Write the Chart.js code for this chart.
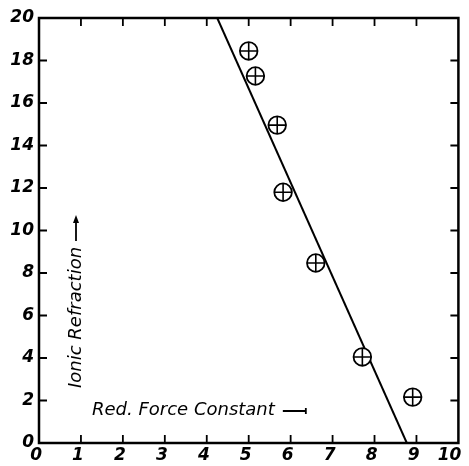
<!DOCTYPE html>
<html>
<head>
<meta charset="utf-8">
<script src="https://cdn.jsdelivr.net/npm/chart.js@4"></script>
<style>
  html, body { margin: 0; padding: 0; background: #fff; }
  #wrap { width: 469px; height: 466px; }
</style>
</head>
<body>
<div id="wrap"><canvas id="chart" width="469" height="466"></canvas></div>
<script>
// Measured points (red. force constant vs ionic refraction)
const forceConst = [5.0, 5.16, 5.68, 5.82, 6.6, 7.71, 8.91]
const refraction = [18.45, 17.27, 14.96, 11.8, 8.47, 4.05, 2.16]
// Fitted straight line, end points
const lineX = [4.25, 8.77]
const lineY = [20, 0]
const xTicks = [0, 1, 2, 3, 4, 5, 6, 7, 8, 9, 10]
const yTicks = [0, 2, 4, 6, 8, 10, 12, 14, 16, 18, 20]

const font = '"DejaVu Sans", sans-serif'
const pts = forceConst.map((x, i) => ({ x: x, y: refraction[i] }))
const fit = lineX.map((x, i) => ({ x: x, y: lineY[i] }))

// frame + inward ticks on all four sides, plus the in-plot axis captions
const framePlugin = {
  id: 'frame',
  afterDraw(chart) {
    const { ctx, chartArea: a, scales } = chart
    ctx.save()
    ctx.strokeStyle = '#000'
    ctx.lineWidth = 2.5
    ctx.strokeRect(a.left, a.top, a.right - a.left, a.bottom - a.top)
    ctx.lineWidth = 1.8
    const len = 8
    xTicks.slice(1, -1).forEach(v => {
      const px = scales.x.getPixelForValue(v)
      ctx.beginPath()
      ctx.moveTo(px, a.bottom); ctx.lineTo(px, a.bottom - len)
      ctx.moveTo(px, a.top); ctx.lineTo(px, a.top + len)
      ctx.stroke()
    })
    yTicks.slice(1, -1).forEach(v => {
      const py = scales.y.getPixelForValue(v)
      ctx.beginPath()
      ctx.moveTo(a.left, py); ctx.lineTo(a.left + len, py)
      ctx.moveTo(a.right, py); ctx.lineTo(a.right - len, py)
      ctx.stroke()
    })

    ctx.fillStyle = '#000'
    ctx.font = 'italic 18px ' + font
    ctx.textBaseline = 'middle'
    ctx.textAlign = 'left'
    // x caption
    const cap = 'Red. Force Constant'
    ctx.fillText(cap, 92, 410)
    const w = ctx.measureText(cap).width
    ctx.beginPath()
    ctx.moveTo(92 + w + 8, 411); ctx.lineTo(92 + w + 31, 411)
    ctx.moveTo(92 + w + 31, 408); ctx.lineTo(92 + w + 31, 414)
    ctx.stroke()
    // y caption
    ctx.translate(76, 388)
    ctx.rotate(-Math.PI / 2)
    const ycap = 'Ionic Refraction'
    ctx.fillText(ycap, 0, 0)
    const wy = ctx.measureText(ycap).width
    ctx.beginPath()
    ctx.moveTo(wy + 6, 0); ctx.lineTo(wy + 28, 0)
    ctx.stroke()
    ctx.beginPath()
    ctx.moveTo(wy + 32, 0); ctx.lineTo(wy + 24, -3); ctx.lineTo(wy + 24, 3)
    ctx.closePath(); ctx.fill()
    ctx.restore()
  }
}

new Chart(document.getElementById('chart'), {
  type: 'scatter',
  data: {
    datasets: [
      {
        data: pts, order: 0, pointStyle: 'cross', pointRadius: 8.8,
        pointBorderColor: '#000', pointBorderWidth: 1.6
      },
      {
        data: pts, order: 1, pointStyle: 'circle', pointRadius: 8.8,
        pointBackgroundColor: '#fff', pointBorderColor: '#000', pointBorderWidth: 1.8
      },
      {
        data: fit, order: 2, showLine: true, borderColor: '#000', borderWidth: 2,
        pointRadius: 0, pointHoverRadius: 0
      }
    ]
  },
  options: {
    responsive: false,
    animation: false,
    events: [],
    layout: { padding: { top: 18, right: 3, left: 0, bottom: 0 } },
    plugins: { legend: { display: false }, tooltip: { enabled: false } },
    scales: {
      x: {
        type: 'linear', min: 0, max: 10,
        afterFit: s => { s.height = 23 },
        afterBuildTicks: s => { s.ticks = xTicks.map(v => ({ value: v })) },
        grid: { display: false, drawTicks: false },
        border: { display: false },
        ticks: {
          color: '#000', padding: 2, maxRotation: 0, autoSkip: false,
          align: 'end', labelOffset: 3,
          font: { family: font, size: 17, style: 'italic', weight: 'bold' }
        }
      },
      y: {
        type: 'linear', min: 0, max: 20,
        afterFit: s => { s.width = 39; s.paddingTop = 0; s.paddingBottom = 0 },
        afterBuildTicks: s => { s.ticks = yTicks.map(v => ({ value: v })) },
        grid: { display: false, drawTicks: false },
        border: { display: false },
        ticks: {
          color: '#000', padding: 5, autoSkip: false,
          font: { family: font, size: 17, style: 'italic', weight: 'bold' }
        }
      }
    }
  },
  plugins: [framePlugin]
})
</script>
</body>
</html>
